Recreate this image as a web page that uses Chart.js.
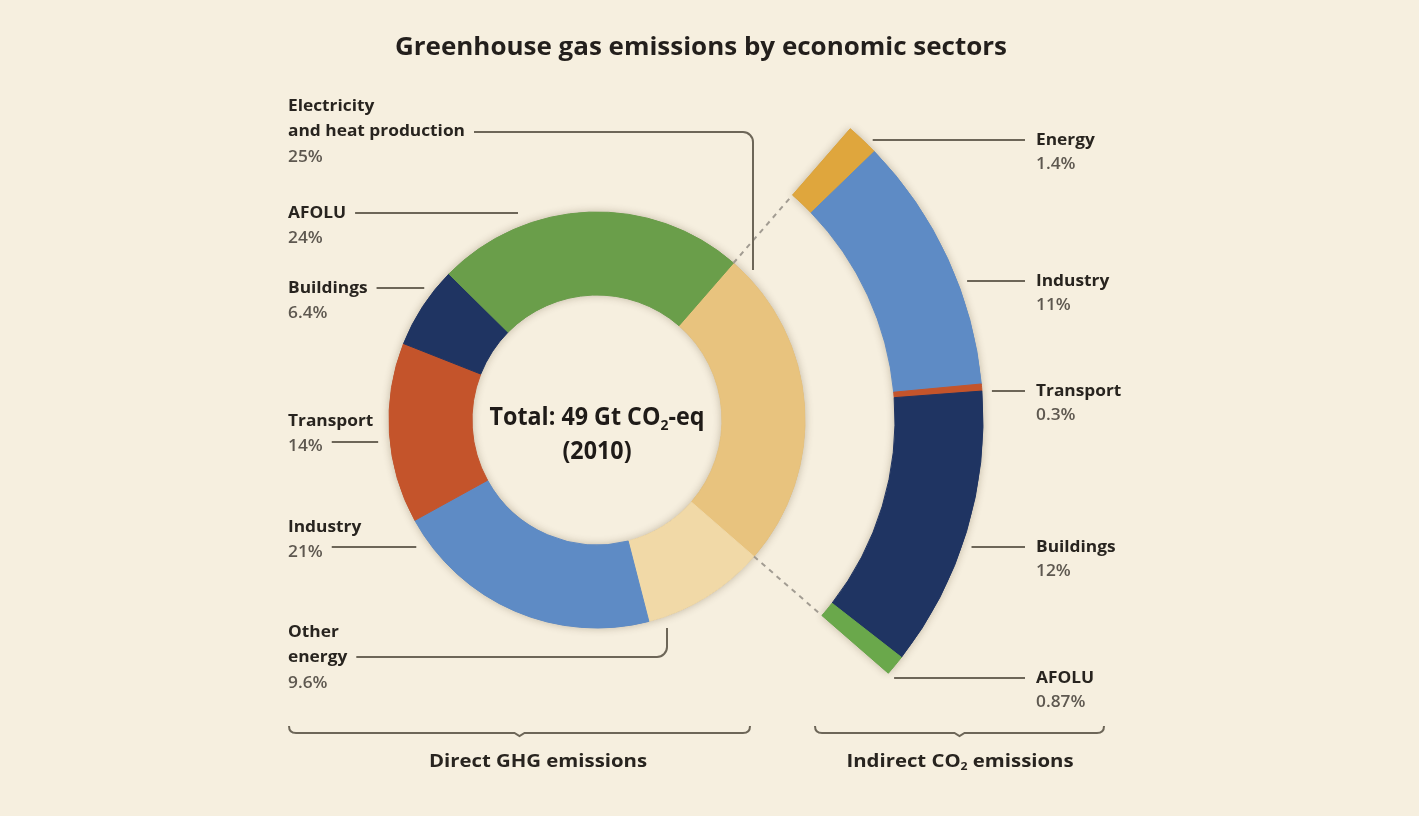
<!DOCTYPE html>
<html>
<head>
<meta charset="utf-8">
<title>Greenhouse gas emissions by economic sectors</title>
<script src="https://cdn.jsdelivr.net/npm/chart.js@4.4.1/dist/chart.umd.min.js"></script>
<style>
  html, body { margin: 0; padding: 0; background: #f6efdf; overflow: hidden; }
  canvas { display: block; }
</style>
</head>
<body>
<canvas id="ghg-chart" width="1419" height="816"></canvas>
<script>
// Direct GHG emissions, clockwise from the top right
const directLabels = ["Electricity and heat production", "Other energy", "Industry", "Transport", "Buildings", "AFOLU"];
const directLines = [["Electricity", "and heat production"], ["Other", "energy"], ["Industry"], ["Transport"], ["Buildings"], ["AFOLU"]];
const directValues = [25, 9.6, 21, 14, 6.4, 24];
const directColors = ["#e8c37e", "#f1d9a7", "#5e8bc5", "#c4542b", "#1f3462", "#6a9e4a"];

// Indirect CO2 emissions (electricity and heat re-allocated to end-use sectors)
const indirectLabels = ["Energy", "Industry", "Transport", "Buildings", "AFOLU"];
const indirectValues = [1.4, 11, 0.3, 12, 0.87];
const indirectColors = ["#dfa63d", "#5e8bc5", "#c4542b", "#1f3462", "#6aa84b"];

const titleText = "Greenhouse gas emissions by economic sectors";
const totalText = ["Total: 49 Gt CO", "2", "-eq"];
const yearText = "(2010)";
const directFoot = "Direct GHG emissions";
const indirectFoot = ["Indirect CO", "2", " emissions"];

const BG = "#f6efdf";
const INK = "#28241f";
const GREY = "#5e5850";
const LEADER = "#6d6658";
const FONT = "'Open Sans', 'Noto Sans', sans-serif";

// label placement: first row centre, row carrying the leader, leader height
const leftLayout = [
  { i: 0, y: 106, row: 1, ly: 132, elbowX: 753, elbowEnd: 270 },
  { i: 5, y: 213, row: 0, ly: 213, endX: 518 },
  { i: 4, y: 288, row: 0, ly: 288, gap: 12 },
  { i: 3, y: 421, row: 1, ly: 442, gap: 12 },
  { i: 2, y: 527, row: 1, ly: 547, gap: 16 },
  { i: 1, y: 632, row: 1, ly: 657, elbowX: 667, elbowEnd: 628 },
];
const rightLayout = [{ i: 0, y: 140 }, { i: 1, y: 281 }, { i: 2, y: 391 }, { i: 3, y: 547 }, { i: 4, y: 678 }];

const directTotal = directValues.reduce((a, b) => a + b, 0);

function drawText(ctx, str, x, y, font, color, align, sx) {
  ctx.save();
  ctx.font = font;
  ctx.fillStyle = color;
  ctx.textBaseline = "middle";
  ctx.textAlign = "left";
  const w = ctx.measureText(str).width * sx;
  const left = align === "center" ? x - w / 2 : x;
  ctx.translate(left, y);
  ctx.scale(sx, 1);
  ctx.fillText(str, 0, 0);
  ctx.restore();
  return w;
}

// text with a subscript "2" in the middle
function richWidth(ctx, parts, size) {
  let w = 0;
  parts.forEach((p, k) => {
    ctx.font = `bold ${k === 1 ? size * 0.6 : size}px ${FONT}`;
    w += ctx.measureText(p).width;
  });
  return w;
}
function drawRich(ctx, parts, cx, y, size, color, sx) {
  let x = cx - richWidth(ctx, parts, size) * sx / 2;
  parts.forEach((p, k) => {
    const sub = k === 1;
    x += drawText(ctx, p, x, sub ? y + size * 0.3 : y, `bold ${sub ? size * 0.6 : size}px ${FONT}`, color, "left", sx);
  });
}

function brace(ctx, x1, x2, y) {
  const mid = (x1 + x2) / 2;
  ctx.beginPath();
  ctx.moveTo(x1, y - 7);
  ctx.quadraticCurveTo(x1, y, x1 + 7, y);
  ctx.lineTo(mid - 5, y);
  ctx.lineTo(mid, y + 3);
  ctx.lineTo(mid + 5, y);
  ctx.lineTo(x2 - 7, y);
  ctx.quadraticCurveTo(x2, y, x2, y - 7);
  ctx.stroke();
}

const backgroundPlugin = {
  id: "background",
  beforeDraw(chart) {
    const ctx = chart.ctx;
    ctx.save();
    ctx.fillStyle = BG;
    ctx.fillRect(0, 0, chart.width, chart.height);
    ctx.restore();
  },
};

// soft shadow under both rings
const shadowPlugin = {
  id: "ringShadow",
  beforeDatasetsDraw(chart) {
    const ctx = chart.ctx;
    [0, 2].forEach((d) => {
      const arcs = chart.getDatasetMeta(d).data;
      const first = arcs[0];
      const last = arcs[arcs.length - 1];
      ctx.save();
      ctx.shadowColor = "rgba(60, 40, 10, 0.3)";
      ctx.shadowBlur = 9;
      ctx.fillStyle = "#999";
      ctx.beginPath();
      ctx.arc(first.x, first.y, first.outerRadius, first.startAngle, last.endAngle);
      ctx.arc(first.x, first.y, first.innerRadius, last.endAngle, first.startAngle, true);
      ctx.closePath();
      ctx.fill();
      ctx.restore();
    });
  },
};

const annotationPlugin = {
  id: "annotations",
  afterDatasetsDraw(chart) {
    const ctx = chart.ctx;
    const ind = chart.getDatasetMeta(0).data;
    const dir = chart.getDatasetMeta(2).data;
    const cx = dir[0].x;
    const cy = dir[0].y;

    // dashed connectors between the electricity slice and the indirect arc
    ctx.save();
    ctx.strokeStyle = "#a29c92";
    ctx.lineWidth = 2;
    ctx.setLineDash([5, 5]);
    [[dir[0].startAngle, ind[0].startAngle], [dir[0].endAngle, ind[ind.length - 1].endAngle]].forEach(([a, b]) => {
      ctx.beginPath();
      ctx.moveTo(cx + dir[0].outerRadius * Math.cos(a), cy + dir[0].outerRadius * Math.sin(a));
      ctx.lineTo(cx + ind[0].innerRadius * Math.cos(b), cy + ind[0].innerRadius * Math.sin(b));
      ctx.stroke();
    });
    ctx.restore();

    // font condensing factors so the humanist face reads like the original
    ctx.font = `bold 16.5px ${FONT}`;
    const labelSx = 177 / ctx.measureText("and heat production").width;
    ctx.font = `bold 25px ${FONT}`;
    const titleSx = 612 / ctx.measureText(titleText).width;
    const centerSx = 215 / richWidth(ctx, totalText, 25);
    ctx.font = `bold 18px ${FONT}`;
    const footSx = 218 / ctx.measureText(directFoot).width;

    const nameFont = `bold 16.5px ${FONT}`;
    const pctFont = `600 16.5px ${FONT}`;

    ctx.save();
    ctx.strokeStyle = LEADER;
    ctx.lineWidth = 2;
    ctx.lineCap = "butt";

    // left column: direct emissions
    const R = dir[0].outerRadius;
    leftLayout.forEach((L) => {
      const rows = [...directLines[L.i], directValues[L.i] + "%"];
      let w = 0;
      rows.forEach((t, k) => {
        const pct = k === rows.length - 1;
        const ww = drawText(ctx, t, 288, L.y + k * 25.5, pct ? pctFont : nameFont, pct ? GREY : INK, "left", labelSx);
        if (k === L.row) w = ww;
      });
      const ly = L.ly;
      const x0 = 288 + w + 9;
      ctx.beginPath();
      ctx.moveTo(x0, ly);
      if (L.elbowX) {
        ctx.arcTo(L.elbowX, ly, L.elbowX, L.elbowEnd, 10);
        ctx.lineTo(L.elbowX, L.elbowEnd);
      } else if (L.endX) {
        ctx.lineTo(L.endX, ly);
      } else {
        const dy = ly - cy;
        ctx.lineTo(cx - Math.sqrt(Math.max(0, R * R - dy * dy)) - L.gap, ly);
      }
      ctx.stroke();
    });

    // right column: indirect emissions
    const Ro = ind[0].outerRadius;
    rightLayout.forEach((L) => {
      drawText(ctx, indirectLabels[L.i], 1036, L.y, nameFont, INK, "left", labelSx);
      drawText(ctx, indirectValues[L.i] + "%", 1036, L.y + 24, pctFont, GREY, "left", labelSx);
      const dy = L.y - cy;
      ctx.beginPath();
      ctx.moveTo(cx + Math.sqrt(Math.max(0, Ro * Ro - dy * dy)) + 10, L.y);
      ctx.lineTo(1025, L.y);
      ctx.stroke();
    });

    // braces under the two groups
    brace(ctx, 289, 750, 733);
    brace(ctx, 815, 1104, 733);
    ctx.restore();

    // title, centre and footer text
    drawText(ctx, titleText, 701, 48, `bold 25px ${FONT}`, "#231f1c", "center", titleSx);
    drawRich(ctx, totalText, cx, 418, 25, "#1f1b18", centerSx);
    drawText(ctx, yearText, cx, 452, `bold 25px ${FONT}`, "#1f1b18", "center", centerSx);
    drawText(ctx, directFoot, 538, 762, `bold 18px ${FONT}`, INK, "center", footSx);
    drawRich(ctx, indirectFoot, 960, 762, 18, INK, footSx);
  },
};

new Chart(document.getElementById("ghg-chart"), {
  type: "doughnut",
  data: {
    labels: directLabels,
    datasets: [
      {
        label: "Indirect CO2 emissions",
        data: indirectValues,
        backgroundColor: indirectColors,
        borderColor: indirectColors,
        borderWidth: 1,
        weight: 88,
        rotation: 41,
        circumference: (360 * directValues[0]) / directTotal,
      },
      {
        label: "gap",
        data: [1],
        backgroundColor: "rgba(0,0,0,0)",
        borderWidth: 0,
        weight: 90,
      },
      {
        label: "Direct GHG emissions",
        data: directValues,
        backgroundColor: directColors,
        borderColor: directColors,
        borderWidth: 1,
        weight: 83,
        rotation: 41,
      },
    ],
  },
  options: {
    responsive: false,
    animation: false,
    events: [],
    radius: 386,
    cutout: (125 / 386) * 100 + "%",
    layout: { padding: { left: 0, right: 225, top: 24, bottom: 0 } },
    plugins: { legend: { display: false }, tooltip: { enabled: false } },
  },
  plugins: [backgroundPlugin, shadowPlugin, annotationPlugin],
});
</script>
</body>
</html>
